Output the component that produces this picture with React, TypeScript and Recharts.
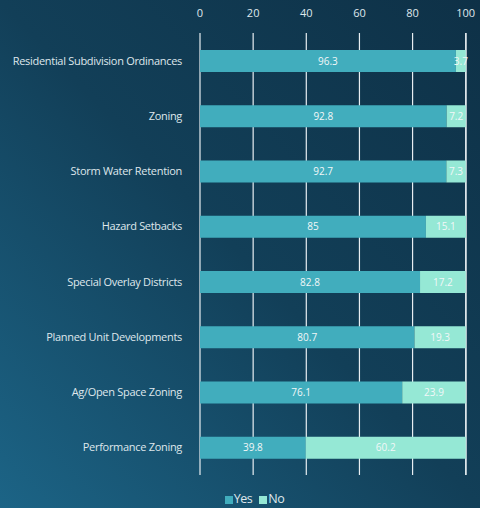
import React from 'react';
import { BarChart, Bar, XAxis, YAxis, CartesianGrid, Legend, LabelList } from 'recharts';

const categories = [
  'Residential Subdivision Ordinances',
  'Zoning',
  'Storm Water Retention',
  'Hazard Setbacks',
  'Special Overlay Districts',
  'Planned Unit Developments',
  'Ag/Open Space Zoning',
  'Performance Zoning',
];
const yesValues = [96.3, 92.8, 92.7, 85, 82.8, 80.7, 76.1, 39.8];
const noValues = [3.7, 7.2, 7.3, 15.1, 17.2, 19.3, 23.9, 60.2];
const xTicks = [0, 20, 40, 60, 80, 100];
const seriesNames = ['Yes', 'No'];
const seriesColors = ['#41adbd', '#95e8d5'];

const data = categories.map((name, i) => ({ name, Yes: yesValues[i], No: noValues[i] }));

const FONT = '"Open Sans", Lato, sans-serif';
const TEXT = '#dfe7ec';

const CategoryTick = (props: any) => {
  const { x, y, payload } = props;
  return (
    <text x={x} y={y} dy={4} textAnchor="end" fill={TEXT} fontSize={11} fontFamily={FONT} letterSpacing={-0.3}>
      {payload.value}
    </text>
  );
};

const LegendContent = () => (
  <div style={{ display: 'flex', justifyContent: 'center', alignItems: 'center', height: 20, paddingLeft: 50, fontFamily: FONT, fontSize: 12.5, letterSpacing: -0.5, color: TEXT }}>
    {seriesNames.map((n, i) => (
      <span key={n} style={{ display: 'inline-flex', alignItems: 'center', marginRight: 7 }}>
        <span style={{ display: 'inline-block', width: 8, height: 8, background: seriesColors[i], marginRight: 1, marginTop: 3 }} />
        {n}
      </span>
    ))}
  </div>
);

export default function App() {
  return (
    <div
      style={{
        position: 'absolute',
        left: 0,
        top: 0,
        width: 480,
        height: 508,
        background: 'linear-gradient(to top right, #1c6486 0%, #123f58 50%, #0e3147 100%)',
        fontFamily: FONT,
      }}
    >
      <BarChart
        width={480}
        height={508}
        data={data}
        layout="vertical"
        margin={{ top: 8, right: 14, bottom: 13, left: 0 }}
        barSize={22}
      >
        <CartesianGrid horizontal={false} vertical stroke="#e8eef2" strokeWidth={1.2} />
        <XAxis
          type="number"
          orientation="top"
          domain={[0, 100]}
          ticks={xTicks}
          axisLine={false}
          tickLine={false}
          height={25}
          tick={{ fill: TEXT, fontSize: 11, fontFamily: FONT }}
          tickMargin={10}
        />
        <YAxis
          type="category"
          dataKey="name"
          width={200}
          axisLine={false}
          tickLine={false}
          tickMargin={12}
          tick={<CategoryTick />}
        />
        <Legend
          verticalAlign="bottom"
          align="center"
          wrapperStyle={{ bottom: 0, height: 20 }}
          content={<LegendContent />}
        />
        <Bar dataKey="Yes" stackId="a" fill={seriesColors[0]} isAnimationActive={false}>
          <LabelList dataKey="Yes" position="center" fill="#f2f7f8" fontSize={10} fontFamily={FONT} />
        </Bar>
        <Bar dataKey="No" stackId="a" fill={seriesColors[1]} isAnimationActive={false}>
          <LabelList dataKey="No" position="center" fill="#f2f7f8" fontSize={10} fontFamily={FONT} />
        </Bar>
      </BarChart>
    </div>
  );
}
